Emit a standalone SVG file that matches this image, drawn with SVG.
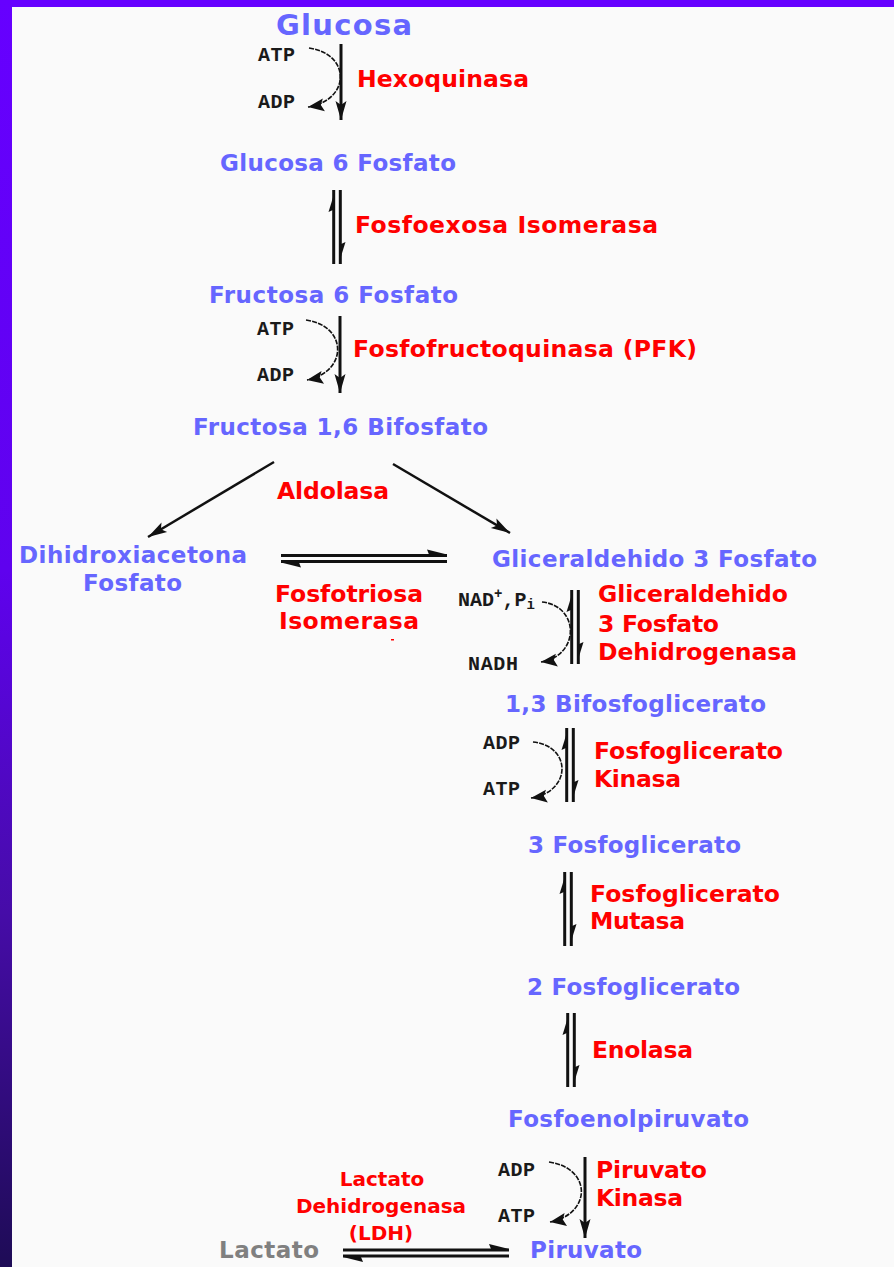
<svg xmlns="http://www.w3.org/2000/svg" width="894" height="1267" viewBox="0 0 894 1267">
<style>
.b{fill:#6666ff;font-family:"DejaVu Sans",Verdana,sans-serif;font-weight:bold;font-size:23px}
.big{font-size:29px}
.r{fill:#ff0000;font-family:"DejaVu Sans",Verdana,sans-serif;font-weight:bold;font-size:23.5px}
.rs{fill:#ff0000;font-family:"DejaVu Sans",Verdana,sans-serif;font-weight:bold;font-size:20px}
.g{fill:#808080;font-family:"DejaVu Sans",Verdana,sans-serif;font-weight:bold;font-size:23px}
.m{fill:#1a1a1a;font-family:"Liberation Mono","Courier New",monospace;font-weight:bold;font-size:20px}
.sm{font-size:14px}
.ln{stroke:#111;stroke-width:3;fill:none}
.ld{stroke:#111;stroke-width:2.5;fill:none}
.arc{stroke:#111;stroke-width:1.6;fill:none;stroke-dasharray:5 1.2}
.hd{fill:#111}
</style>
<defs>
<linearGradient id="side" x1="0" y1="0" x2="0" y2="1">
<stop offset="0" stop-color="#6600ff"/>
<stop offset="0.45" stop-color="#5f02ee"/>
<stop offset="0.72" stop-color="#460ca8"/>
<stop offset="1" stop-color="#1e0c56"/>
</linearGradient>
<marker id="ah" markerUnits="userSpaceOnUse" markerWidth="24" markerHeight="14" viewBox="-20 -7 24 14" refX="0" refY="0" orient="auto">
<path d="M0,0 L-19,-5.5 L-15,0 L-19,5.5 z" fill="#111"/>
</marker>
<marker id="arch" markerUnits="userSpaceOnUse" markerWidth="20" markerHeight="16" viewBox="-18 -8 20 16" refX="0" refY="0" orient="auto">
<path d="M0,0 L-16,-7 L-13,0 L-16,6 z" fill="#111"/>
</marker>
<g id="revv">
<line class="ln" x1="-3.3" y1="0" x2="-3.3" y2="74"/>
<line class="ln" x1="3.3" y1="0" x2="3.3" y2="74"/>
<path class="hd" d="M-2,1 L-8.5,22 L-2,19 z"/>
<path class="hd" d="M2,73 L8.5,52 L2,55 z"/>
</g>
<g id="revh">
<line class="ln" x1="0" y1="0" x2="166" y2="0"/>
<line class="ln" x1="0" y1="6" x2="166" y2="6"/>
<path class="hd" d="M166,-1 L146,-6 L148,-1 z"/>
<path class="hd" d="M0,7 L20,12 L18,7 z"/>
</g>
</defs>
<rect x="0" y="0" width="894" height="1267" fill="#fafafa"/>
<rect x="0" y="0" width="894" height="7" fill="#6600ff"/>
<rect x="0" y="0" width="12" height="1267" fill="url(#side)"/>

<g id="connectors">
<line class="ln" x1="341" y1="44" x2="341" y2="120" marker-end="url(#ah)"/>
<path class="arc" d="M309,48 C351,54 351,100 308,107" marker-end="url(#arch)"/>
<use href="#revv" x="337" y="190"/>
<line class="ln" x1="340" y1="316" x2="340" y2="393" marker-end="url(#ah)"/>
<path class="arc" d="M306,320 C348,326 348,372 307,380" marker-end="url(#arch)"/>
<line class="ld" x1="274" y1="462" x2="148" y2="537" marker-end="url(#ah)"/>
<line class="ld" x1="393" y1="464" x2="510" y2="533" marker-end="url(#ah)"/>
<use href="#revh" x="281" y="555.5"/>
<use href="#revv" x="575" y="590"/>
<path class="arc" d="M542,602 C580,606 580,656 541,662" marker-end="url(#arch)"/>
<use href="#revv" x="570" y="728"/>
<path class="arc" d="M533,742 C572,746 572,792 531,798" marker-end="url(#arch)"/>
<use href="#revv" x="568" y="872"/>
<use href="#revv" x="571" y="1013"/>
<line class="ln" x1="585" y1="1157" x2="585" y2="1238" marker-end="url(#ah)"/>
<path class="arc" d="M549,1162 C592,1168 592,1214 550,1222" marker-end="url(#arch)"/>
<use href="#revh" x="343" y="1250"/>
</g>

<g id="labels">
<text class="r" x="357" y="87" textLength="172">Hexoquinasa</text>
<text class="r" x="355" y="233" textLength="303">Fosfoexosa Isomerasa</text>
<text class="r" x="353" y="357" textLength="344">Fosfofructoquinasa (PFK)</text>
<text class="r" x="277" y="499" textLength="112">Aldolasa</text>
<text class="r" x="275" y="602" textLength="148">Fosfotriosa</text>
<text class="r" x="279" y="629" textLength="140">Isomerasa</text>
<rect x="391" y="639" width="3" height="1.5" fill="#ff0000"/>
<text class="r" x="598" y="602" textLength="190">Gliceraldehido</text>
<text class="r" x="598" y="632" textLength="121">3 Fosfato</text>
<text class="r" x="598" y="660" textLength="199">Dehidrogenasa</text>
<text class="r" x="594" y="759" textLength="189">Fosfoglicerato</text>
<text class="r" x="594" y="787" textLength="87">Kinasa</text>
<text class="r" x="590" y="902" textLength="190">Fosfoglicerato</text>
<text class="r" x="590" y="929" textLength="95">Mutasa</text>
<text class="r" x="592" y="1058" textLength="101">Enolasa</text>
<text class="r" x="596" y="1178" textLength="111">Piruvato</text>
<text class="r" x="596" y="1206" textLength="87">Kinasa</text>
<text class="rs" x="382" y="1186" text-anchor="middle">Lactato</text>
<text class="rs" x="381" y="1213" text-anchor="middle">Dehidrogenasa</text>
<text class="rs" x="381" y="1240" text-anchor="middle">(LDH)</text>
<text class="m" x="258" y="61" textLength="37">ATP</text>
<text class="m" x="258" y="108" textLength="37">ADP</text>
<text class="m" x="257" y="335" textLength="37">ATP</text>
<text class="m" x="257" y="381" textLength="37">ADP</text>
<text class="m" x="458" y="606">NAD<tspan class="sm" dy="-8">+</tspan><tspan dy="8">,P</tspan><tspan class="sm" dy="3">i</tspan></text>
<text class="m" x="468" y="670" textLength="50">NADH</text>
<text class="m" x="483" y="749" textLength="37">ADP</text>
<text class="m" x="483" y="795" textLength="37">ATP</text>
<text class="m" x="498" y="1176" textLength="37">ADP</text>
<text class="m" x="498" y="1222" textLength="37">ATP</text>
</g>

<g id="glucosa"><text class="b big" x="276" y="35" textLength="136">Glucosa</text></g>
<g id="glucosa6p"><text class="b" x="220" y="171" textLength="236">Glucosa 6 Fosfato</text></g>
<g id="fructosa6p"><text class="b" x="209" y="303" textLength="249">Fructosa 6 Fosfato</text></g>
<g id="fructosa16bp"><text class="b" x="193" y="435" textLength="295">Fructosa 1,6 Bifosfato</text></g>
<g id="dhap"><text class="b" x="19" y="563" textLength="228">Dihidroxiacetona</text><text class="b" x="83" y="591" textLength="99">Fosfato</text></g>
<g id="g3p"><text class="b" x="492" y="567" textLength="325">Gliceraldehido 3 Fosfato</text></g>
<g id="bpg13"><text class="b" x="505" y="712" textLength="261">1,3 Bifosfoglicerato</text></g>
<g id="pg3"><text class="b" x="528" y="853" textLength="213">3 Fosfoglicerato</text></g>
<g id="pg2"><text class="b" x="527" y="995" textLength="213">2 Fosfoglicerato</text></g>
<g id="pep"><text class="b" x="508" y="1127" textLength="241">Fosfoenolpiruvato</text></g>
<g id="piruvato"><text class="b" x="530" y="1258" textLength="112">Piruvato</text></g>
<g id="lactato"><text class="g" x="219" y="1258" textLength="100">Lactato</text></g>
</svg>
